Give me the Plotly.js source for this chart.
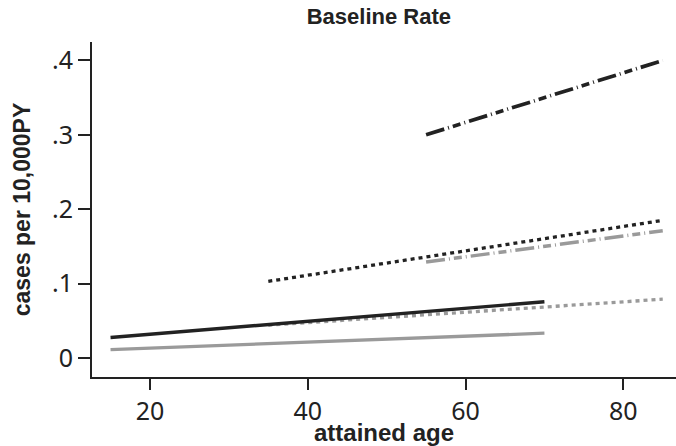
<!DOCTYPE html>
<html>
<head>
<meta charset="utf-8">
<script src="https://cdn.plot.ly/plotly-3.0.1.min.js"></script>
<style>html,body{margin:0;padding:0;background:#fff;}#chart{width:676px;height:446px;}</style>
</head>
<body>
<div id="chart"></div>
<script>
// Data (attained age vs cases per 10,000PY)
const blackDashDotAge = [55, 85];
const blackDashDotRate = [0.300, 0.400];
const blackDotAge = [35, 85];
const blackDotRate = [0.103, 0.185];
const grayDashDotAge = [55, 85];
const grayDashDotRate = [0.129, 0.171];
const grayDotAge = [35, 85];
const grayDotRate = [0.044, 0.079];
const blackSolidAge = [15, 70];
const blackSolidRate = [0.0275, 0.0755];
const graySolidAge = [15, 70];
const graySolidRate = [0.0113, 0.0333];

const xTicks = [20, 40, 60, 80];
const yTicks = [0, 0.1, 0.2, 0.3, 0.4];
const yTickText = ["0", ".1", ".2", ".3", ".4"];

const BLACK = '#222222';
const GRAY = '#9a9a9a';
const dashDot = '19px,4px,1px,4px,8px,4px,1px,4px';

const traces = [
  {x: graySolidAge, y: graySolidRate, mode: 'lines', line: {color: GRAY, width: 3.3}},
  {x: grayDotAge, y: grayDotRate, mode: 'lines', line: {color: GRAY, width: 3.3, dash: '4px,4px'}},
  {x: blackSolidAge, y: blackSolidRate, mode: 'lines', line: {color: BLACK, width: 3.4}},
  {x: grayDashDotAge, y: grayDashDotRate, mode: 'lines', line: {color: GRAY, width: 3.5, dash: dashDot}},
  {x: blackDotAge, y: blackDotRate, mode: 'lines', line: {color: BLACK, width: 3.3, dash: '4px,4px'}},
  {x: blackDashDotAge, y: blackDashDotRate, mode: 'lines', line: {color: BLACK, width: 3.7, dash: dashDot}}
];

const layout = {
  width: 676, height: 446,
  margin: {l: 92, r: 0, t: 42, b: 69},
  paper_bgcolor: '#ffffff', plot_bgcolor: '#ffffff',
  showlegend: false,
  title: {text: 'Baseline Rate', font: {family: 'Liberation Sans, Arial, sans-serif', size: 22, color: BLACK, weight: 'bold'},
          x: 0.3676, xref: 'paper', xanchor: 'left', y: 0.98, yref: 'container', yanchor: 'top'},
  xaxis: {
    range: [12.65, 86.68], tickvals: xTicks, ticktext: xTicks.map(String),
    showgrid: false, zeroline: false, showline: true, linecolor: BLACK, linewidth: 2,
    ticks: 'outside', ticklen: 11, tickwidth: 2, tickcolor: BLACK,
    tickfont: {family: 'Noto Sans, Open Sans, sans-serif', size: 25, color: BLACK},
    title: {text: 'attained age', font: {family: 'Liberation Sans, Arial, sans-serif', size: 24, color: BLACK, weight: 'bold'}, standoff: 13}
  },
  yaxis: {
    range: [-0.0256, 0.4248], tickvals: yTicks, ticktext: yTickText,
    showgrid: false, zeroline: false, showline: true, linecolor: BLACK, linewidth: 2,
    ticks: 'outside', ticklen: 12, tickwidth: 2, tickcolor: BLACK,
    tickfont: {family: 'Noto Sans, Open Sans, sans-serif', size: 25, color: BLACK},
    title: {text: 'cases per 10,000PY', font: {family: 'Liberation Sans, Arial, sans-serif', size: 23, color: BLACK, weight: 'bold'}, standoff: 15}
  }
};

Plotly.newPlot('chart', traces, layout, {staticPlot: true, displayModeBar: false});
</script>
</body>
</html>
